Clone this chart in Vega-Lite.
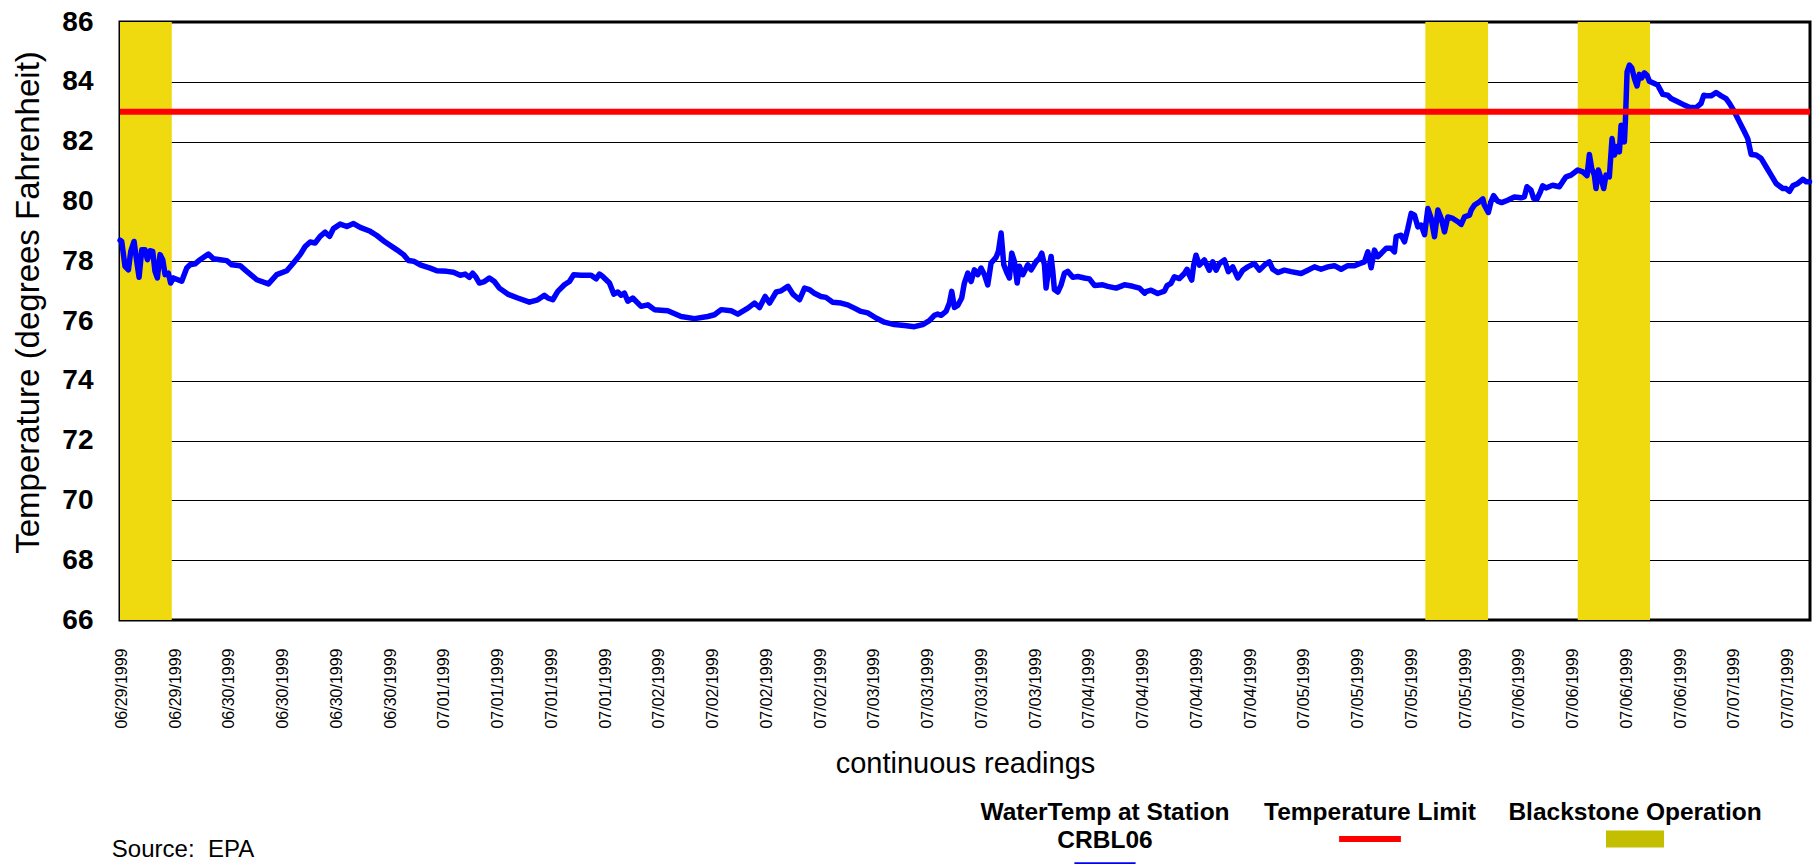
{
  "$schema": "https://vega.github.io/schema/vega-lite/v6.json",
  "background": "white",
  "padding": {"left": 11, "top": 6, "right": 0, "bottom": 0},
  "spacing": 20,
  "config": {
    "font": "Liberation Sans",
    "view": {"stroke": "black", "strokeWidth": 3},
    "axis": {"labelColor": "black", "titleColor": "black", "labelFont": "Liberation Sans", "titleFont": "Liberation Sans"},
    "text": {"font": "Liberation Sans"}
  },
  "vconcat": [
    {
      "width": 1690,
      "height": 598,
      "layer": [
        {
          "data": {"values": [
            {"start": 11.84, "end": 17.62},
            {"start": 157.56, "end": 164.56},
            {"start": 174.57, "end": 182.64}
          ]},
          "mark": {"type": "rect", "color": "#EFDA10"},
          "encoding": {
            "x": {"field": "start", "type": "quantitative",
              "scale": {"domain": [11.84, 200.5], "nice": false, "zero": false},
              "axis": {"title": "continuous readings", "values": [12,18,24,30,36,42,48,54,60,66,72,78,84,90,96,102,108,114,120,126,132,138,144,150,156,162,168,174,180,186,192,198],
                "labelExpr": "timeFormat(datetime(1999, 5, 29, datum.value), '%m/%d/%Y')",
                "labelAngle": 270, "labelFontSize": 16, "labelPadding": 28, "ticks": false, "domain": false, "grid": false,
                "labelOverlap": false, "labelFlush": false, "titleFontSize": 29, "titleFontWeight": "normal", "titlePadding": 21}},
            "x2": {"field": "end"}
          }
        },
        {
          "data": {"values": [
            {"hour": 11.85, "temp": 78.70}, {"hour": 12.03, "temp": 78.66}, {"hour": 12.40, "temp": 77.83}, {"hour": 12.78, "temp": 77.71},
            {"hour": 13.04, "temp": 78.33}, {"hour": 13.41, "temp": 78.66}, {"hour": 13.71, "temp": 77.99}, {"hour": 13.97, "temp": 77.46},
            {"hour": 14.27, "temp": 78.38}, {"hour": 14.64, "temp": 78.38}, {"hour": 14.90, "temp": 78.05}, {"hour": 15.20, "temp": 78.35},
            {"hour": 15.49, "temp": 78.33}, {"hour": 15.75, "temp": 77.66}, {"hour": 16.01, "temp": 77.44}, {"hour": 16.31, "temp": 78.22},
            {"hour": 16.61, "temp": 78.05}, {"hour": 16.87, "temp": 77.55}, {"hour": 17.24, "temp": 77.60}, {"hour": 17.50, "temp": 77.27},
            {"hour": 17.80, "temp": 77.44}, {"hour": 18.73, "temp": 77.33}, {"hour": 19.29, "temp": 77.77}, {"hour": 19.66, "temp": 77.88},
            {"hour": 20.22, "temp": 77.91}, {"hour": 20.78, "temp": 78.05}, {"hour": 21.71, "temp": 78.24}, {"hour": 22.27, "temp": 78.08},
            {"hour": 23.01, "temp": 78.05}, {"hour": 23.76, "temp": 78.02}, {"hour": 24.32, "temp": 77.88}, {"hour": 25.25, "temp": 77.85},
            {"hour": 25.99, "temp": 77.66}, {"hour": 27.11, "temp": 77.38}, {"hour": 28.41, "temp": 77.24}, {"hour": 29.34, "temp": 77.55},
            {"hour": 30.46, "temp": 77.68}, {"hour": 31.20, "temp": 77.94}, {"hour": 31.95, "temp": 78.22}, {"hour": 32.51, "temp": 78.49},
            {"hour": 33.07, "temp": 78.64}, {"hour": 33.62, "temp": 78.61}, {"hour": 34.18, "temp": 78.83}, {"hour": 34.74, "temp": 78.97},
            {"hour": 35.23, "temp": 78.83}, {"hour": 35.67, "temp": 79.09}, {"hour": 36.42, "temp": 79.24}, {"hour": 37.16, "temp": 79.16},
            {"hour": 37.91, "temp": 79.26}, {"hour": 38.65, "temp": 79.13}, {"hour": 39.77, "temp": 79.00}, {"hour": 40.51, "temp": 78.86},
            {"hour": 41.44, "temp": 78.64}, {"hour": 42.75, "temp": 78.38}, {"hour": 43.49, "temp": 78.22}, {"hour": 44.05, "temp": 78.02},
            {"hour": 44.61, "temp": 78.00}, {"hour": 45.35, "temp": 77.88}, {"hour": 46.47, "temp": 77.77}, {"hour": 47.21, "temp": 77.68},
            {"hour": 48.33, "temp": 77.66}, {"hour": 49.07, "temp": 77.63}, {"hour": 49.82, "temp": 77.53}, {"hour": 50.38, "temp": 77.57},
            {"hour": 50.84, "temp": 77.46}, {"hour": 51.21, "temp": 77.60}, {"hour": 51.59, "temp": 77.46}, {"hour": 51.96, "temp": 77.27},
            {"hour": 52.52, "temp": 77.32}, {"hour": 53.07, "temp": 77.44}, {"hour": 53.63, "temp": 77.32}, {"hour": 54.19, "temp": 77.10},
            {"hour": 55.12, "temp": 76.90}, {"hour": 56.24, "temp": 76.77}, {"hour": 57.54, "temp": 76.63}, {"hour": 58.47, "temp": 76.71},
            {"hour": 59.22, "temp": 76.86}, {"hour": 59.59, "temp": 76.77}, {"hour": 60.15, "temp": 76.71}, {"hour": 60.71, "temp": 76.99},
            {"hour": 61.45, "temp": 77.21}, {"hour": 62.01, "temp": 77.32}, {"hour": 62.49, "temp": 77.55}, {"hour": 63.31, "temp": 77.53},
            {"hour": 64.43, "temp": 77.53}, {"hour": 64.99, "temp": 77.41}, {"hour": 65.36, "temp": 77.57}, {"hour": 65.73, "temp": 77.49},
            {"hour": 66.48, "temp": 77.27}, {"hour": 66.96, "temp": 76.90}, {"hour": 67.41, "temp": 76.97}, {"hour": 67.78, "temp": 76.86},
            {"hour": 68.15, "temp": 76.93}, {"hour": 68.53, "temp": 76.66}, {"hour": 69.08, "temp": 76.77}, {"hour": 70.01, "temp": 76.49},
            {"hour": 70.76, "temp": 76.54}, {"hour": 71.50, "temp": 76.38}, {"hour": 72.99, "temp": 76.34}, {"hour": 74.48, "temp": 76.15},
            {"hour": 75.97, "temp": 76.08}, {"hour": 77.46, "temp": 76.15}, {"hour": 78.20, "temp": 76.21}, {"hour": 78.95, "temp": 76.38},
            {"hour": 80.07, "temp": 76.34}, {"hour": 80.81, "temp": 76.23}, {"hour": 81.93, "temp": 76.43}, {"hour": 82.67, "temp": 76.60},
            {"hour": 83.23, "temp": 76.45}, {"hour": 83.86, "temp": 76.82}, {"hour": 84.35, "temp": 76.60}, {"hour": 85.09, "temp": 76.97},
            {"hour": 85.65, "temp": 77.01}, {"hour": 86.40, "temp": 77.16}, {"hour": 86.95, "temp": 76.90}, {"hour": 87.70, "temp": 76.71},
            {"hour": 88.26, "temp": 77.10}, {"hour": 88.79, "temp": 77.05}, {"hour": 89.35, "temp": 76.93}, {"hour": 90.09, "temp": 76.82},
            {"hour": 90.65, "temp": 76.79}, {"hour": 91.40, "temp": 76.63}, {"hour": 92.33, "temp": 76.60}, {"hour": 93.07, "temp": 76.54},
            {"hour": 93.82, "temp": 76.43}, {"hour": 94.56, "temp": 76.32}, {"hour": 95.31, "temp": 76.27}, {"hour": 96.24, "temp": 76.10},
            {"hour": 97.17, "temp": 75.96}, {"hour": 98.28, "temp": 75.88}, {"hour": 99.40, "temp": 75.85}, {"hour": 100.52, "temp": 75.81},
            {"hour": 101.45, "temp": 75.88}, {"hour": 102.19, "temp": 76.01}, {"hour": 102.75, "temp": 76.19}, {"hour": 103.12, "temp": 76.23},
            {"hour": 103.50, "temp": 76.19}, {"hour": 104.05, "temp": 76.32}, {"hour": 104.43, "temp": 76.60}, {"hour": 104.69, "temp": 76.99},
            {"hour": 104.99, "temp": 76.45}, {"hour": 105.36, "temp": 76.52}, {"hour": 105.80, "temp": 76.77}, {"hour": 106.10, "temp": 77.27},
            {"hour": 106.48, "temp": 77.60}, {"hour": 106.85, "temp": 77.32}, {"hour": 107.22, "temp": 77.71}, {"hour": 107.59, "temp": 77.55},
            {"hour": 107.96, "temp": 77.77}, {"hour": 108.34, "temp": 77.55}, {"hour": 108.71, "temp": 77.21}, {"hour": 109.08, "temp": 77.94},
            {"hour": 109.64, "temp": 78.13}, {"hour": 109.90, "temp": 78.33}, {"hour": 110.20, "temp": 78.94}, {"hour": 110.50, "temp": 77.88},
            {"hour": 110.87, "temp": 77.60}, {"hour": 111.13, "temp": 77.44}, {"hour": 111.39, "temp": 78.27}, {"hour": 111.69, "temp": 77.99},
            {"hour": 111.99, "temp": 77.27}, {"hour": 112.25, "temp": 77.83}, {"hour": 112.62, "temp": 77.55}, {"hour": 113.18, "temp": 77.88},
            {"hour": 113.55, "temp": 77.71}, {"hour": 114.11, "temp": 77.99}, {"hour": 114.48, "temp": 78.10}, {"hour": 114.74, "temp": 78.27},
            {"hour": 115.04, "temp": 77.88}, {"hour": 115.22, "temp": 77.10}, {"hour": 115.48, "temp": 77.66}, {"hour": 115.78, "temp": 78.16},
            {"hour": 115.97, "temp": 77.66}, {"hour": 116.15, "temp": 77.05}, {"hour": 116.53, "temp": 76.97}, {"hour": 116.90, "temp": 77.21},
            {"hour": 117.27, "temp": 77.60}, {"hour": 117.64, "temp": 77.66}, {"hour": 118.20, "temp": 77.46}, {"hour": 118.76, "temp": 77.49},
            {"hour": 119.50, "temp": 77.44}, {"hour": 120.06, "temp": 77.41}, {"hour": 120.62, "temp": 77.19}, {"hour": 121.55, "temp": 77.21},
            {"hour": 122.11, "temp": 77.16}, {"hour": 123.04, "temp": 77.10}, {"hour": 123.97, "temp": 77.21}, {"hour": 124.90, "temp": 77.16},
            {"hour": 125.65, "temp": 77.10}, {"hour": 126.21, "temp": 76.93}, {"hour": 126.38, "temp": 76.98}, {"hour": 126.94, "temp": 77.03},
            {"hour": 127.68, "temp": 76.92}, {"hour": 128.43, "temp": 77.00}, {"hour": 128.72, "temp": 77.18}, {"hour": 129.17, "temp": 77.26},
            {"hour": 129.54, "temp": 77.48}, {"hour": 130.10, "temp": 77.42}, {"hour": 130.66, "temp": 77.59}, {"hour": 130.96, "temp": 77.73},
            {"hour": 131.22, "temp": 77.53}, {"hour": 131.48, "temp": 77.37}, {"hour": 131.70, "temp": 77.87}, {"hour": 131.96, "temp": 78.20},
            {"hour": 132.34, "temp": 77.87}, {"hour": 132.89, "temp": 78.04}, {"hour": 133.45, "temp": 77.70}, {"hour": 133.82, "temp": 77.98},
            {"hour": 134.20, "temp": 77.70}, {"hour": 134.57, "temp": 77.92}, {"hour": 135.13, "temp": 78.04}, {"hour": 135.57, "temp": 77.65},
            {"hour": 136.06, "temp": 77.81}, {"hour": 136.62, "temp": 77.44}, {"hour": 137.18, "temp": 77.70}, {"hour": 137.73, "temp": 77.81},
            {"hour": 138.48, "temp": 77.92}, {"hour": 139.04, "temp": 77.70}, {"hour": 139.60, "temp": 77.87}, {"hour": 140.15, "temp": 77.98},
            {"hour": 140.53, "temp": 77.73}, {"hour": 141.08, "temp": 77.62}, {"hour": 141.83, "temp": 77.70}, {"hour": 142.57, "temp": 77.65},
            {"hour": 143.69, "temp": 77.59}, {"hour": 144.44, "temp": 77.70}, {"hour": 145.18, "temp": 77.81}, {"hour": 145.92, "temp": 77.73},
            {"hour": 146.67, "temp": 77.81}, {"hour": 147.41, "temp": 77.85}, {"hour": 148.16, "temp": 77.73}, {"hour": 148.90, "temp": 77.85},
            {"hour": 149.65, "temp": 77.85}, {"hour": 150.21, "temp": 77.92}, {"hour": 150.76, "temp": 77.98}, {"hour": 151.14, "temp": 78.31},
            {"hour": 151.51, "temp": 77.78}, {"hour": 151.88, "temp": 78.37}, {"hour": 152.25, "temp": 78.15}, {"hour": 152.63, "temp": 78.26},
            {"hour": 153.18, "temp": 78.43}, {"hour": 153.74, "temp": 78.43}, {"hour": 154.11, "temp": 78.31}, {"hour": 154.30, "temp": 78.82},
            {"hour": 154.86, "temp": 78.87}, {"hour": 155.23, "temp": 78.65}, {"hour": 155.60, "temp": 79.09}, {"hour": 155.98, "temp": 79.60},
            {"hour": 156.35, "temp": 79.54}, {"hour": 156.72, "temp": 79.15}, {"hour": 157.09, "temp": 79.21}, {"hour": 157.47, "temp": 78.89},
            {"hour": 157.84, "temp": 79.76}, {"hour": 158.21, "temp": 79.43}, {"hour": 158.58, "temp": 78.82}, {"hour": 158.96, "temp": 79.71},
            {"hour": 159.33, "temp": 79.43}, {"hour": 159.70, "temp": 78.98}, {"hour": 160.07, "temp": 79.48}, {"hour": 160.63, "temp": 79.43},
            {"hour": 161.19, "temp": 79.32}, {"hour": 161.56, "temp": 79.23}, {"hour": 161.93, "temp": 79.48}, {"hour": 162.49, "temp": 79.54},
            {"hour": 162.68, "temp": 79.71}, {"hour": 163.05, "temp": 79.88}, {"hour": 163.61, "temp": 79.99}, {"hour": 163.98, "temp": 80.08},
            {"hour": 164.14, "temp": 79.88}, {"hour": 164.59, "temp": 79.63}, {"hour": 164.89, "temp": 79.99}, {"hour": 165.18, "temp": 80.19},
            {"hour": 165.63, "temp": 80.01}, {"hour": 166.08, "temp": 79.96}, {"hour": 166.75, "temp": 80.04}, {"hour": 167.49, "temp": 80.15},
            {"hour": 168.24, "temp": 80.12}, {"hour": 168.61, "temp": 80.15}, {"hour": 168.91, "temp": 80.49}, {"hour": 169.35, "temp": 80.38},
            {"hour": 169.65, "temp": 80.10}, {"hour": 170.02, "temp": 80.08}, {"hour": 170.40, "temp": 80.32}, {"hour": 170.66, "temp": 80.52},
            {"hour": 171.03, "temp": 80.45}, {"hour": 171.77, "temp": 80.54}, {"hour": 172.52, "temp": 80.49}, {"hour": 172.89, "temp": 80.66},
            {"hour": 173.26, "temp": 80.82}, {"hour": 173.82, "temp": 80.88}, {"hour": 174.57, "temp": 81.05}, {"hour": 175.13, "temp": 80.99},
            {"hour": 175.61, "temp": 80.86}, {"hour": 175.87, "temp": 81.57}, {"hour": 176.13, "temp": 81.10}, {"hour": 176.43, "temp": 80.88},
            {"hour": 176.61, "temp": 80.43}, {"hour": 176.87, "temp": 81.05}, {"hour": 177.17, "temp": 80.77}, {"hour": 177.47, "temp": 80.43},
            {"hour": 177.73, "temp": 80.88}, {"hour": 178.10, "temp": 80.82}, {"hour": 178.40, "temp": 82.10}, {"hour": 178.66, "temp": 81.55},
            {"hour": 178.96, "temp": 81.83}, {"hour": 179.22, "temp": 81.66}, {"hour": 179.41, "temp": 82.55}, {"hour": 179.78, "temp": 81.99},
            {"hour": 179.89, "temp": 82.66}, {"hour": 180.08, "temp": 84.33}, {"hour": 180.34, "temp": 84.56}, {"hour": 180.60, "temp": 84.47},
            {"hour": 180.90, "temp": 84.11}, {"hour": 181.19, "temp": 83.86}, {"hour": 181.45, "temp": 84.25}, {"hour": 181.71, "temp": 84.13},
            {"hour": 182.01, "temp": 84.30}, {"hour": 182.31, "temp": 84.22}, {"hour": 182.57, "temp": 84.02}, {"hour": 183.13, "temp": 83.94},
            {"hour": 183.50, "temp": 83.89}, {"hour": 184.06, "temp": 83.58}, {"hour": 184.62, "temp": 83.55}, {"hour": 184.99, "temp": 83.44},
            {"hour": 185.74, "temp": 83.33}, {"hour": 186.48, "temp": 83.22}, {"hour": 187.04, "temp": 83.15}, {"hour": 187.78, "temp": 83.13},
            {"hour": 188.34, "temp": 83.28}, {"hour": 188.64, "temp": 83.55}, {"hour": 189.09, "temp": 83.53}, {"hour": 189.46, "temp": 83.53},
            {"hour": 190.02, "temp": 83.64}, {"hour": 190.58, "temp": 83.53}, {"hour": 191.13, "temp": 83.44}, {"hour": 191.51, "temp": 83.28},
            {"hour": 192.06, "temp": 83.00}, {"hour": 192.62, "temp": 82.66}, {"hour": 193.18, "temp": 82.33}, {"hour": 193.55, "temp": 82.10},
            {"hour": 193.93, "temp": 81.57}, {"hour": 194.48, "temp": 81.55}, {"hour": 195.04, "temp": 81.44}, {"hour": 195.60, "temp": 81.16},
            {"hour": 196.16, "temp": 80.88}, {"hour": 196.71, "temp": 80.60}, {"hour": 197.46, "temp": 80.43}, {"hour": 197.83, "temp": 80.43},
            {"hour": 198.21, "temp": 80.34}, {"hour": 198.58, "temp": 80.52}, {"hour": 199.14, "temp": 80.60}, {"hour": 199.70, "temp": 80.74},
            {"hour": 200.07, "temp": 80.66}, {"hour": 200.44, "temp": 80.66}
          ]},
          "mark": {"type": "line", "color": "#0000FF", "strokeWidth": 5.5, "strokeJoin": "round", "strokeCap": "round"},
          "encoding": {
            "x": {"field": "hour", "type": "quantitative",
              "scale": {"domain": [11.84, 200.5], "nice": false, "zero": false},
              "axis": {"title": "continuous readings", "values": [12,18,24,30,36,42,48,54,60,66,72,78,84,90,96,102,108,114,120,126,132,138,144,150,156,162,168,174,180,186,192,198],
                "labelExpr": "timeFormat(datetime(1999, 5, 29, datum.value), '%m/%d/%Y')",
                "labelAngle": 270, "labelFontSize": 16, "labelPadding": 28, "ticks": false, "domain": false, "grid": false,
                "labelOverlap": false, "labelFlush": false, "titleFontSize": 29, "titleFontWeight": "normal", "titlePadding": 21}},
            "y": {"field": "temp", "type": "quantitative",
              "scale": {"domain": [66, 86], "nice": false, "zero": false},
              "axis": {"title": "Temperature (degrees Fahrenheit)", "values": [66,68,70,72,74,76,78,80,82,84,86],
                "labelFontSize": 28, "labelFontWeight": "bold", "labelPadding": 27, "ticks": false, "domain": false,
                "grid": true, "gridColor": "black", "gridWidth": 1, "gridOpacity": 1,
                "titleFontSize": 33, "titleFontWeight": "normal", "titlePadding": 16, "titleY": 280}}
          }
        },
        {
          "data": {"values": [{"limit": 83}]},
          "mark": {"type": "rule", "color": "#FF0000", "strokeWidth": 6},
          "encoding": {
            "y": {"field": "limit", "type": "quantitative",
              "scale": {"domain": [66, 86], "nice": false, "zero": false},
              "axis": {"title": "Temperature (degrees Fahrenheit)", "values": [66,68,70,72,74,76,78,80,82,84,86],
                "labelFontSize": 28, "labelFontWeight": "bold", "labelPadding": 27, "ticks": false, "domain": false,
                "grid": true, "gridColor": "black", "gridWidth": 1, "gridOpacity": 1,
                "titleFontSize": 33, "titleFontWeight": "normal", "titlePadding": 16, "titleY": 280}}
          }
        }
      ]
    },
    {
      "spacing": 20,
      "hconcat": [
        {
          "width": 435,
          "height": 50,
          "view": {"stroke": null},
          "data": {"values": [{"note": "Source:\u00a0\u00a0EPA"}]},
          "mark": {"type": "text", "fontSize": 24, "baseline": "top", "align": "center", "dy": 12, "color": "black"},
          "encoding": {
            "x": {"field": "note", "type": "nominal", "scale": {"type": "point", "align": 0.1448}, "axis": null},
            "y": {"datum": 1, "type": "quantitative", "scale": {"domain": [0, 2], "reverse": true, "nice": false, "zero": false}, "axis": null},
            "text": {"field": "note"}
          }
        },
        {
          "width": 1060,
          "height": 50,
          "view": {"stroke": null},
          "data": {"values": [
            {"item": "water", "label": "WaterTemp at Station\nCRBL06", "lines": 2},
            {"item": "limit", "label": "Temperature Limit", "lines": 1},
            {"item": "blackstone", "label": "Blackstone Operation", "lines": 1}
          ]},
          "encoding": {
            "x": {"field": "item", "type": "nominal", "scale": {"type": "point", "domain": ["water", "limit", "blackstone"], "padding": 1, "align": 1}, "axis": null}
          },
          "layer": [
            {
              "mark": {"type": "text", "fontSize": 24.5, "fontWeight": "bold", "baseline": "top", "align": "center", "lineHeight": 28, "lineBreak": "\n", "color": "black"},
              "encoding": {
                "y": {"datum": 0, "type": "quantitative", "scale": {"domain": [0, 2], "reverse": true, "nice": false, "zero": false}, "axis": null},
                "text": {"field": "label"}
              }
            },
            {
              "mark": {"type": "point", "filled": true, "opacity": 1, "size": 3600, "yOffset": 13, "strokeWidth": 0},
              "encoding": {
                "y": {"field": "lines", "type": "quantitative", "scale": {"domain": [0, 2], "reverse": true, "nice": false, "zero": false}, "axis": null},
                "shape": {"field": "item", "type": "nominal", "scale": {"domain": ["water", "limit", "blackstone"], "range": ["M-1.02,-0.06H1.02V0.06H-1.02Z", "M-1.03,-0.1H1.03V0.1H-1.03Z", "M-0.967,-0.283H0.967V0.283H-0.967Z"]}, "legend": null},
                "color": {"field": "item", "type": "nominal", "scale": {"domain": ["water", "limit", "blackstone"], "range": ["#0000FF", "#FF0000", "#C4BE00"]}, "legend": null}
              }
            }
          ]
        }
      ]
    }
  ]
}
